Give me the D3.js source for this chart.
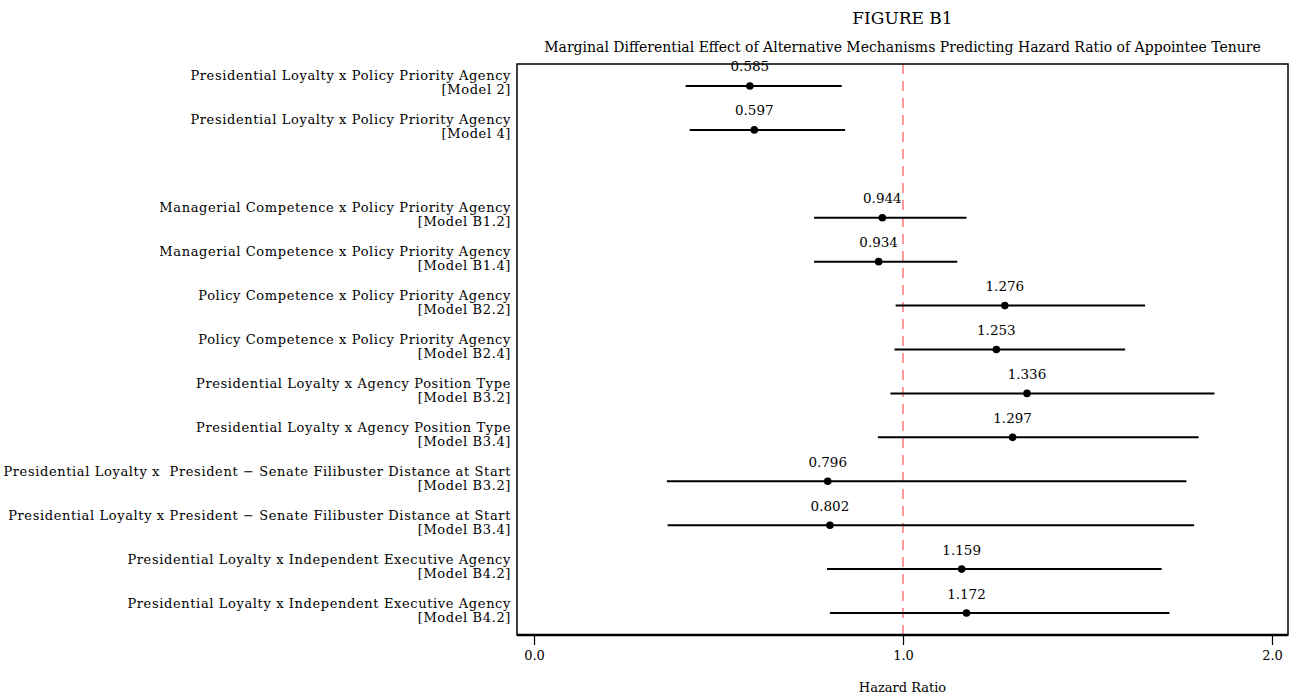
<!DOCTYPE html>
<html><head><meta charset="utf-8">
<script src="https://cdn.jsdelivr.net/npm/d3@7"></script>
<style>
html,body{margin:0;padding:0;background:#fff;}
text{font-family:"DejaVu Serif","Liberation Serif",serif;fill:#000;}
</style></head>
<body><svg id="c" width="1296" height="696"></svg>
<script>
const labels = [
  "Presidential Loyalty x Policy Priority Agency",
  "Presidential Loyalty x Policy Priority Agency",
  "",
  "Managerial Competence x Policy Priority Agency",
  "Managerial Competence x Policy Priority Agency",
  "Policy Competence x Policy Priority Agency",
  "Policy Competence x Policy Priority Agency",
  "Presidential Loyalty x Agency Position Type",
  "Presidential Loyalty x Agency Position Type",
  "Presidential Loyalty x  President \u2212 Senate Filibuster Distance at Start",
  "Presidential Loyalty x President \u2212 Senate Filibuster Distance at Start",
  "Presidential Loyalty x Independent Executive Agency",
  "Presidential Loyalty x Independent Executive Agency"
];
const models = ["[Model 2]","[Model 4]","","[Model B1.2]","[Model B1.4]","[Model B2.2]","[Model B2.4]","[Model B3.2]","[Model B3.4]","[Model B3.2]","[Model B3.4]","[Model B4.2]","[Model B4.2]"];
const estimates = [0.585,0.597,null,0.944,0.934,1.276,1.253,1.336,1.297,0.796,0.802,1.159,1.172];
const lower = [0.411,0.422,null,0.759,0.759,0.980,0.977,0.966,0.932,0.360,0.362,0.794,0.802];
const upper = [0.834,0.843,null,1.172,1.147,1.656,1.602,1.844,1.801,1.768,1.789,1.701,1.722];
const xTicks = [0,1,2];
const refLine = 1;
const title = "FIGURE B1";
const subtitle = "Marginal Differential Effect of Alternative Mechanisms Predicting Hazard Ratio of Appointee Tenure";
const xTitle = "Hazard Ratio";

const svg = d3.select("#c");
const box = {l:517, r:1288, t:64, b:635};
const x = d3.scaleLinear().domain([0,2]).range([534,1272]);
const slots = labels.map((d,i)=>i);
const y = d3.scaleBand().domain(slots).range([box.t, box.b]).paddingInner(0).paddingOuter(0);
const yc = i => y(i) + y.bandwidth()/2;

svg.append("text").attr("x",(box.l+box.r)/2).attr("y",24).attr("text-anchor","middle")
  .style("font-size","17px").text(title);
svg.append("text").attr("x",(box.l+box.r)/2).attr("y",52).attr("text-anchor","middle")
  .style("font-size","14px").text(subtitle);

// reference line
svg.append("line").attr("x1",x(refLine)).attr("x2",x(refLine)).attr("y1",box.t).attr("y2",box.b)
  .attr("stroke","#ff9a9a").attr("stroke-width",2).attr("stroke-dasharray","10,7");

const rows = slots.filter(i=>estimates[i]!==null);
const g = svg.append("g");
g.selectAll("line.ci").data(rows).join("line").attr("class","ci")
  .attr("x1",i=>x(lower[i])).attr("x2",i=>x(upper[i]))
  .attr("y1",yc).attr("y2",yc).attr("stroke","#000").attr("stroke-width",2);
g.selectAll("circle").data(rows).join("circle")
  .attr("cx",i=>x(estimates[i])).attr("cy",yc).attr("r",3.8).attr("fill","#000");
g.selectAll("text.val").data(rows).join("text").attr("class","val")
  .attr("x",i=>x(estimates[i])).attr("y",i=>yc(i)-14.5).attr("text-anchor","middle")
  .style("font-size","13.5px").text(i=>estimates[i].toFixed(3));

// y labels
const yl = svg.append("g");
rows.forEach(i=>{
  const t = yl.append("text").attr("text-anchor","end").style("font-size","13px")
    .style("letter-spacing","0.62px")
    .attr("xml:space","preserve").style("white-space","pre");
  t.append("tspan").attr("x",box.l-6).attr("y",yc(i)-5.5).text(labels[i]);
  t.append("tspan").attr("x",box.l-6).attr("y",yc(i)+8.5).text(models[i]);
});

// box
svg.append("rect").attr("x",box.l).attr("y",box.t).attr("width",box.r-box.l).attr("height",box.b-box.t)
  .attr("fill","none").attr("stroke","#000").attr("stroke-width",1.5);
svg.append("line").attr("x1",box.l).attr("x2",box.r).attr("y1",box.b).attr("y2",box.b)
  .attr("stroke","#000").attr("stroke-width",2.5);

// x axis
const ax = svg.append("g").attr("transform",`translate(0,${box.b+1})`)
  .call(d3.axisBottom(x).tickValues(xTicks).tickFormat(d3.format(".1f")).tickSize(9).tickPadding(6));
ax.select(".domain").remove();
ax.selectAll(".tick line").attr("stroke","#000").attr("stroke-width",1.2);
ax.selectAll(".tick text").style("font-family","DejaVu Serif").style("font-size","13px");

svg.append("text").attr("x",(box.l+box.r)/2).attr("y",692).attr("text-anchor","middle")
  .style("font-size","13px").text(xTitle);
</script></body></html>
